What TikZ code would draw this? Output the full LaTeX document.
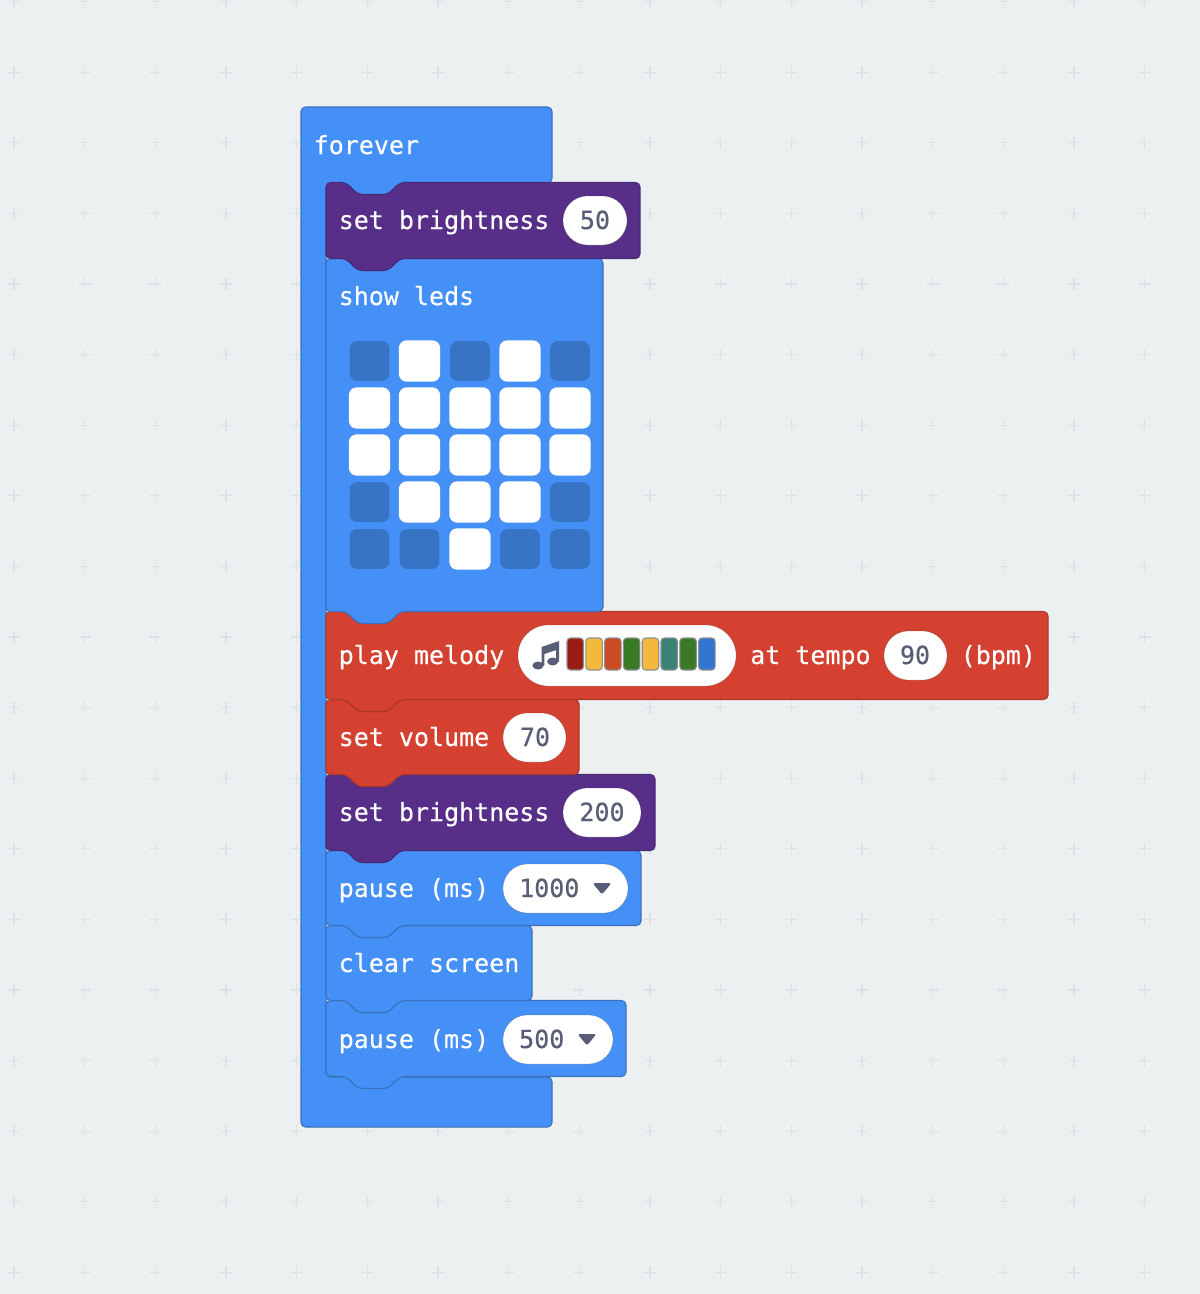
\documentclass[tikz,border=0pt]{standalone}
\usepackage{fontspec}
\setmainfont{DejaVu Sans Mono}[FakeBold=0.35]
\definecolor{bgc}{HTML}{ECF0F1}
\definecolor{gridc}{HTML}{DDE2E4}
\definecolor{bluef}{HTML}{4590F6}
\definecolor{blues}{HTML}{3A72BE}
\definecolor{purf}{HTML}{572F88}
\definecolor{purs}{HTML}{482A78}
\definecolor{redf}{HTML}{D44130}
\definecolor{reds}{HTML}{A9382B}
\definecolor{ledoff}{HTML}{3874C6}
\definecolor{txtc}{HTML}{575E75}
\definecolor{mgrey}{HTML}{8E9090}
\definecolor{mred}{HTML}{9A1D13}
\definecolor{myel}{HTML}{F3B93D}
\definecolor{morg}{HTML}{CC4B22}
\definecolor{mgrn}{HTML}{3A7A27}
\definecolor{mteal}{HTML}{3A8274}
\definecolor{mblu}{HTML}{3076D1}
\tikzset{
  x=1pt,y=-1pt,
  blockblue/.style={fill=bluef,draw=blues,line width=1.1pt,rounded corners=4.5pt},
  blockpur/.style={fill=purf,draw=purs,line width=1.1pt,rounded corners=4.5pt},
  blockred/.style={fill=redf,draw=reds,line width=1.1pt,rounded corners=4.5pt},
  lbl/.style={anchor=base west,inner sep=0pt,text=white,font=\fontsize{25}{30}\selectfont},
  val/.style={anchor=base,inner sep=0pt,text=txtc,font=\fontsize{25}{30}\selectfont},
  pill/.style={fill=white,draw=black,draw opacity=0.15,line width=0.8pt},
  ledon/.style={fill=white,rounded corners=8pt},
  ledoffs/.style={fill=ledoff,rounded corners=7pt},
  cell/.style={draw=mgrey,line width=1.1pt,rounded corners=3.5pt},
  gridp/.style={draw=gridc,line width=1.2pt}
}
% style, x, top, right, bottom
\newcommand{\stmt}[5]{\draw[#1] (#2,#3) -- (#2+20,#3) -- (#2+32,#3+12) -- (#2+62,#3+12) -- (#2+74,#3)
  -- (#4,#3) -- (#4,#5) -- (#2+74,#5) -- (#2+62,#5+12) -- (#2+32,#5+12) -- (#2+20,#5) -- (#2,#5) -- cycle;}
% name, x0, y0, x1, y1
\newcommand{\pillshape}[5]{\draw[pill,rounded corners={(#5-#3)/2*1pt}] (#2,#3) rectangle (#4,#5) coordinate (#1);}
\newcommand{\led}[3]{\ifnum#3=1 \fill[ledon] (#1-20.7,#2-20.7) rectangle (#1+20.7,#2+20.7);\else \fill[ledoffs] (#1-19.8,#2-19.8) rectangle (#1+19.8,#2+19.8);\fi}
\newcommand{\mcell}[2]{\filldraw[cell,fill=#2] (#1,638) rectangle (#1+16.5,670);}
\newcommand{\ddtri}[2]{\fill[txtc,rounded corners=2.5pt] (#1-9.5,#2-5) -- (#1+9.5,#2-5) -- (#1,#2+6.5) -- cycle;}
\begin{document}
\begin{tikzpicture}
\useasboundingbox (0,0) rectangle (1200,1294);
\fill[bgc] (0,0) rectangle (1200,1294);
% dot grid
\foreach \i in {0,...,16}{
  \foreach \j in {0,...,18}{
    \pgfmathsetmacro{\gx}{14+70.67*\i}
    \pgfmathsetmacro{\gy}{1.5+70.6*\j}
    \draw[gridp] (\gx-6,\gy) -- (\gx+6,\gy) (\gx,\gy-6) -- (\gx,\gy+6);
  }
}
% forever C-block
\draw[blockblue] (301,107) -- (552,107) -- (552,183) -- (400,183) -- (388,195) -- (358,195) -- (346,183) -- (326,183) -- (326,1077) -- (552,1077) -- (552,1127) -- (301,1127) -- cycle;
% statements, bottom to top
\stmt{blockblue}{326}{1000.5}{626}{1076.5}
\stmt{blockblue}{326}{925.5}{532}{1000.5}
\stmt{blockblue}{326}{850.5}{641}{925.5}
\stmt{blockpur}{326}{774.5}{655}{850.5}
\stmt{blockred}{326}{699.5}{579}{774.5}
\stmt{blockred}{326}{611.5}{1048}{699.5}
\stmt{blockblue}{326}{258.5}{603}{611.5}
\stmt{blockpur}{326}{182.5}{640}{258.5}
% pills
\pillshape{p50}{563}{196}{627}{245}
\pillshape{pmel}{518}{625}{736}{686}
\pillshape{p90}{884}{631}{947}{680}
\pillshape{p70}{503}{713}{566}{762}
\pillshape{p200}{563}{788}{641}{837}
\pillshape{p1000}{503}{864}{628}{913}
\pillshape{p500}{503}{1015}{613}{1064}
% LEDs
\led{369.5}{361}{0}\led{419.5}{361}{1}\led{470}{361}{0}\led{520}{361}{1}\led{570}{361}{0}
\led{369.5}{408}{1}\led{419.5}{408}{1}\led{470}{408}{1}\led{520}{408}{1}\led{570}{408}{1}
\led{369.5}{455}{1}\led{419.5}{455}{1}\led{470}{455}{1}\led{520}{455}{1}\led{570}{455}{1}
\led{369.5}{502}{0}\led{419.5}{502}{1}\led{470}{502}{1}\led{520}{502}{1}\led{570}{502}{0}
\led{369.5}{549}{0}\led{419.5}{549}{0}\led{470}{549}{1}\led{520}{549}{0}\led{570}{549}{0}
% melody
\mcell{567}{mred}\mcell{585.8}{myel}\mcell{604.6}{morg}\mcell{623.4}{mgrn}
\mcell{642.2}{myel}\mcell{661}{mteal}\mcell{679.8}{mgrn}\mcell{698.6}{mblu}
% music note icon
\fill[txtc] (538,665.5) ellipse [x radius=5.6,y radius=4];
\fill[txtc] (552.7,661.5) ellipse [x radius=5.6,y radius=4];
\fill[txtc] (541.6,665.5) -- (541.6,647) -- (559,641) -- (559,661.5) -- (556.2,661.5) -- (556.2,650) -- (544.4,654) -- (544.4,665.5) -- cycle;
% dropdown triangles
\ddtri{602}{888}
\ddtri{587}{1039}
% labels
\node[lbl] (tforever) at (313.5,154) {forever};
\node[lbl] (tb1) at (338.5,229) {set brightness};
\node[val] (v50) at (595,229) {50};
\node[lbl] (tleds) at (338.5,305) {show leds};
\node[lbl] (tmel) at (338.5,664) {play melody};
\node[lbl] (ttempo) at (750,664) {at tempo};
\node[val] (v90) at (915,664) {90};
\node[lbl] (tbpm) at (960.5,664) {(bpm)};
\node[lbl] (tvol) at (338.5,746) {set volume};
\node[val] (v70) at (535,746) {70};
\node[lbl] (tb2) at (338.5,821) {set brightness};
\node[val] (v200) at (602,821) {200};
\node[lbl] (tp1) at (338.5,897) {pause (ms)};
\node[val,anchor=base west] (v1000) at (519,897) {1000};
\node[lbl] (tclr) at (338.5,972) {clear screen};
\node[lbl] (tp2) at (338.5,1048) {pause (ms)};
\node[val,anchor=base west] (v500) at (519,1048) {500};
\end{tikzpicture}
\end{document}
